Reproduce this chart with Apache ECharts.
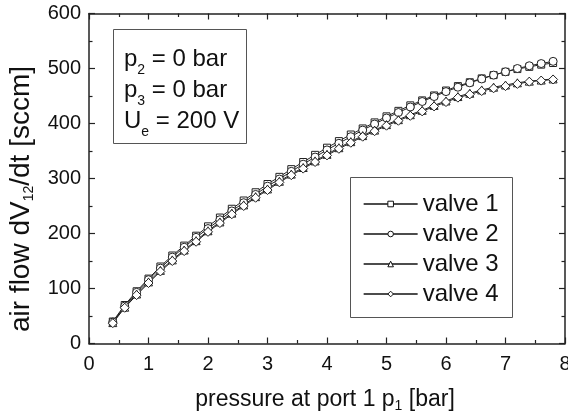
<!DOCTYPE html>
<html>
<head>
<meta charset="utf-8">
<script src="https://cdn.jsdelivr.net/npm/echarts@6/dist/echarts.min.js"></script>
<style>html,body{margin:0;padding:0;background:#fff;}#c{width:568px;height:415px;}</style>
</head>
<body>
<div id="c"></div>
<script>
const pressure = [0.4,0.6,0.8,1.0,1.2,1.4,1.6,1.8,2.0,2.2,2.4,2.6,2.8,3.0,3.2,3.4,3.6,3.8,4.0,4.2,4.4,4.6,4.8,5.0,5.2,5.4,5.6,5.8,6.0,6.2,6.4,6.6,6.8,7.0,7.2,7.4,7.6,7.8];
const valve1 = [40,70,95,118,140,160,178,196,213,229,245,260,275,290,303,317,330,343,356,368,380,391,402,413,423,433,442,451,460,468,475,482,488,494,499,503,507,510];
const valve2 = [39,68,93,116,137,157,175,193,209,225,241,256,271,286,299,313,326,339,352,364,376,388,399,410,420,430,440,449,458,466,474,481,488,494,500,505,509,513];
const valve3 = [38,66,90,112,133,152,170,187,205,221,237,252,267,281,295,308,320,332,344,356,367,378,388,398,407,416,424,433,441,449,455,461,466,470,474,477,479,481];
const valve4 = [37,65,88,110,131,150,168,185,203,219,235,250,265,279,293,306,318,330,342,354,365,376,386,396,405,414,422,431,439,447,453,459,464,468,472,476,478,480];
const seriesNames = ['valve 1','valve 2','valve 3','valve 4'];
const xTicks = [0,1,2,3,4,5,6,7,8];
const yTicks = [0,100,200,300,400,500,600];

const FONT = 'Liberation Sans, Arial, Helvetica, sans-serif';
const AX = '#222';
const TXT = '#111';
const chart = echarts.init(document.getElementById('c'), null, {renderer:'canvas'});

function mk(data){ return pressure.map((x,i)=>[x,data[i]]); }
const symbols = ['rect','circle','triangle','diamond'];
const sizes = [7,8,8,9];
const all = [valve1,valve2,valve3,valve4];

const axisCommon = {
  axisLine:{show:true,onZero:false,lineStyle:{color:AX,width:1.5}},
  axisTick:{show:true,inside:true,length:6,lineStyle:{color:AX,width:1.2}},
  minorTick:{show:true,splitNumber:2,length:3.5,lineStyle:{color:AX,width:1.2}},
  splitLine:{show:false}
};

chart.setOption({
  animation:false,
  backgroundColor:'#fff',
  grid:{left:89,right:3,top:13.5,bottom:71.5,outerBoundsMode:'none',containLabel:false},
  xAxis:[
    Object.assign({type:'value',min:xTicks[0],max:xTicks[xTicks.length-1],interval:1,position:'bottom',
      axisLabel:{show:true,margin:11,fontFamily:FONT,fontSize:20,color:TXT}},axisCommon),
    Object.assign({type:'value',min:xTicks[0],max:xTicks[xTicks.length-1],interval:1,position:'top',
      axisLabel:{show:false}},axisCommon)
  ],
  yAxis:[
    Object.assign({type:'value',min:yTicks[0],max:yTicks[yTicks.length-1],interval:100,position:'left',
      axisLabel:{show:true,margin:8,fontFamily:FONT,fontSize:20,color:TXT}},axisCommon),
    Object.assign({type:'value',min:yTicks[0],max:yTicks[yTicks.length-1],interval:100,position:'right',
      axisLabel:{show:false}},axisCommon)
  ],
  legend:{
    orient:'vertical',left:363,top:192,padding:0,itemWidth:54,itemHeight:7,itemGap:6,
    data:seriesNames,
    itemStyle:{color:'#fff',borderColor:'#111',borderWidth:1},
    lineStyle:{color:'#111',width:1.3},
    textStyle:{fontFamily:FONT,fontSize:24,color:TXT},
    selectedMode:false
  },
  graphic:[
    {type:'rect',shape:{x:350.5,y:177.5,width:162,height:140},style:{fill:'none',stroke:'#555',lineWidth:1},z:1},
    {type:'rect',shape:{x:113.5,y:29.5,width:133,height:114},style:{fill:'none',stroke:'#555',lineWidth:1},z:1},
    {type:'text',left:124,top:47,z:5,style:{
      text:'{n|p}{s|2}{n| = 0 bar}\n{n|p}{s|3}{n| = 0 bar}\n{n|U}{s|e}{n| = 200 V}',
      rich:{n:{fontFamily:FONT,fontSize:24,fill:TXT,verticalAlign:'top',lineHeight:31},
            s:{fontFamily:FONT,fontSize:14,fill:TXT,verticalAlign:'top',lineHeight:31,padding:[16,0,0,0]}}}},
    {type:'text',x:325,y:400,z:5,style:{
      text:'{n|pressure at port 1 p}{s|1}{n| [bar]}',align:'center',verticalAlign:'middle',
      rich:{n:{fontFamily:FONT,fontSize:23,fill:TXT,verticalAlign:'top',lineHeight:23},
            s:{fontFamily:FONT,fontSize:14,fill:TXT,verticalAlign:'top',lineHeight:23,padding:[11,0,0,0]}}}},
    {type:'text',x:21,y:199,rotation:Math.PI/2,z:5,style:{
      text:'{n|air flow dV}{s|12}{n|/dt [sccm]}',align:'center',verticalAlign:'middle',
      rich:{n:{fontFamily:FONT,fontSize:28,fill:TXT,verticalAlign:'top',lineHeight:28},
            s:{fontFamily:FONT,fontSize:14,fill:TXT,verticalAlign:'top',lineHeight:28,padding:[15,0,0,0]}}}}
  ],
  series: all.map((d,i)=>({
    name:seriesNames[i],type:'line',data:mk(d),xAxisIndex:0,yAxisIndex:0,
    symbol:symbols[i],symbolSize:sizes[i],showSymbol:true,
    lineStyle:{color:'#222',width:1},
    itemStyle:{color:'#fff',borderColor:'#222',borderWidth:1},
    emphasis:{disabled:true}
  }))
});
</script>
</body>
</html>
